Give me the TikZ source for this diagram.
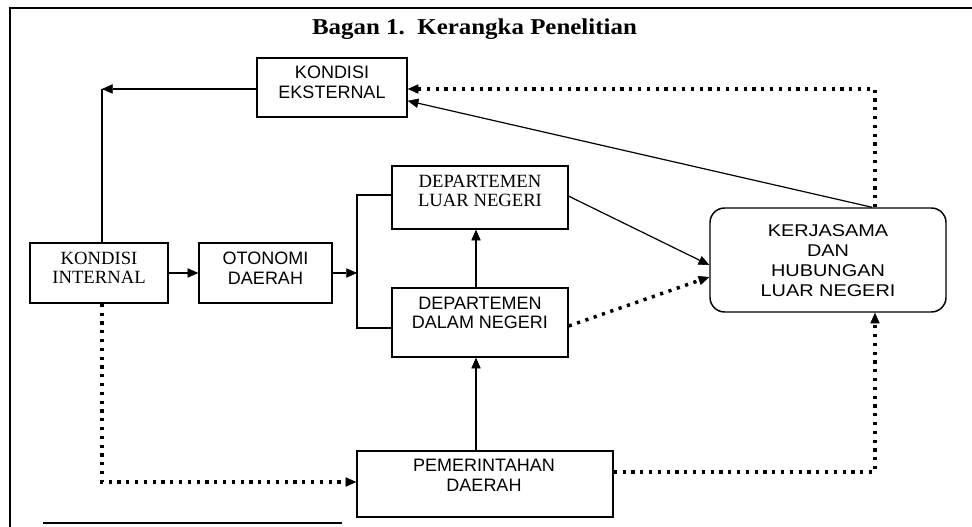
\documentclass[tikz,border=0pt]{standalone}
\usepackage{fontspec}
\setmainfont{Liberation Serif}
\setsansfont{Liberation Sans}
\newfontfamily\kjfont[FakeStretch=1.17]{Liberation Sans}
\newfontfamily\titlefont[FakeStretch=1.1]{Liberation Serif}
\usetikzlibrary{arrows.meta}
\begin{document}
\begin{tikzpicture}[x=0.75pt,y=-0.75pt,
  box/.style={draw, line width=1.1pt, inner sep=0pt},
  lbl/.style={align=center, inner sep=0pt},
  sflbl/.style={lbl, font=\sffamily\fontsize{13.5}{14.6}\selectfont},
  rmlbl/.style={lbl, font=\rmfamily\fontsize{14}{14.6}\selectfont},
  plain/.style={line width=0.9pt},
  con/.style={line width=0.9pt, -{Triangle[length=8pt,width=7pt,line width=0.4pt]}},
  dotl/.style={line width=2.6pt, dash pattern=on 2.4pt off 4.2pt, -{Triangle[length=8pt,width=7pt,line width=0.4pt]}}
]
\useasboundingbox (0,0) rectangle (972,527);
% frame
\coordinate (f1) at (10,527);
\coordinate (f2) at (10,8);
\coordinate (f3) at (972,8);
\draw[line width=1.4pt] (f1) -- (f2) -- (f3);
\coordinate (g1) at (43,523);
\coordinate (g2) at (342,523);
\draw[line width=0.8pt] (g1) -- (g2);
% title
\node[lbl, font=\titlefont\bfseries\fontsize{17}{20}\selectfont] (title) at (474.5,29) {Bagan 1.\ \ Kerangka Penelitian};
% boxes
\node[box, minimum width=112.5pt, minimum height=44.25pt] (ke) at (332,87.5) {};
\node[sflbl] (ket) at (332,82.5) {KONDISI\\EKSTERNAL};
\node[box, minimum width=132pt, minimum height=47.25pt] (dln) at (480,197.5) {};
\node[rmlbl] (dlnt) at (480,191) {DEPARTEMEN\\LUAR NEGERI};
\node[box, minimum width=132pt, minimum height=51.75pt] (ddn) at (480,322.5) {};
\node[sflbl] (ddnt) at (480,313) {DEPARTEMEN\\DALAM NEGERI};
\node[box, minimum width=103.5pt, minimum height=45pt] (ki) at (99,273) {};
\node[rmlbl] (kit) at (99,268) {KONDISI\\INTERNAL};
\node[box, minimum width=99.75pt, minimum height=45pt] (od) at (265.5,273) {};
\node[sflbl] (odt) at (265.5,268) {OTONOMI\\DAERAH};
\node[box, minimum width=192pt, minimum height=49.5pt] (pd) at (485,484) {};
\node[sflbl] (pdt) at (484,475.5) {PEMERINTAHAN\\DAERAH};
\node[box, rounded corners=11pt, minimum width=177pt, minimum height=78pt] (kj) at (828,260) {};
\node[lbl, font=\kjfont\fontsize{12.75}{15}\selectfont] (kjt) at (828,261) {KERJASAMA\\DAN\\HUBUNGAN\\LUAR NEGERI};
% connectors
\coordinate (c1) at (102,89);
\draw[con] (ke.west |- c1) -- (c1);
\draw[plain] (c1) -- (c1 |- ki.north);
\coordinate (c2) at (875,89);
\draw[dotl] (c2 |- kj.north) -- (c2) -- (ke.east |- c2);
\coordinate (s1) at (872,208);
\draw[con] (kj.north -| s1) -- ([yshift=-10pt]ke.east);
\draw[con] (ki.east) -- (od.west);
\coordinate (b1) at (357,195);
\coordinate (b2) at (357,328);
\draw[plain] (dln.west |- b1) -- (b1) -- (b2) -- (ddn.west |- b2);
\draw[con] (od.east) -- (od.east -| b1);
\coordinate (v) at (476,0);
\draw[con] (ddn.north -| v) -- (dln.south -| v);
\draw[con] (pd.north -| v) -- (ddn.south -| v);
\draw[con] ([yshift=1pt]dln.east) -- ([yshift=-3.75pt]kj.west);
\draw[dotl] ([yshift=-2.6pt]ddn.east) -- ([yshift=-12.75pt]kj.west);
\coordinate (c3) at (102,482);
\draw[dotl] (ki.south -| c3) -- (c3) -- (pd.west |- c3);
\coordinate (c4) at (875,472);
\draw[dotl] (pd.east |- c4) -- (c4) -- (kj.south -| c4);
\end{tikzpicture}
\end{document}
